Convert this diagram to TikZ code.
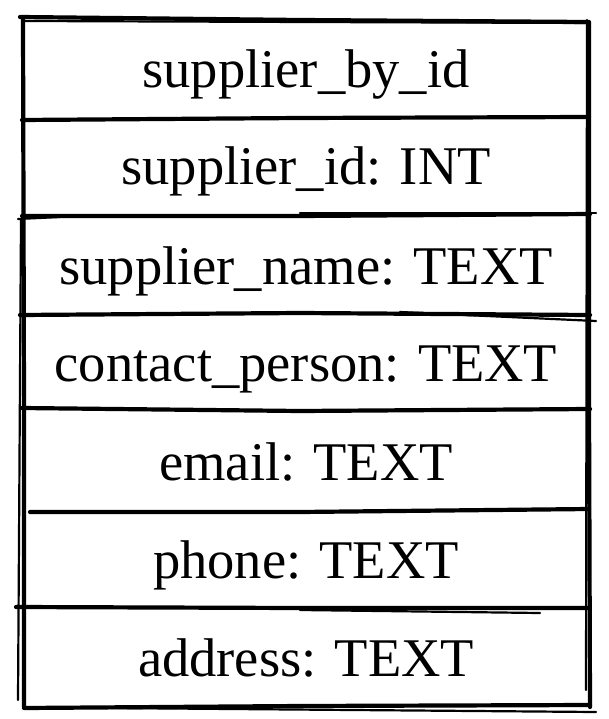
\documentclass[tikz,border=0pt]{standalone}
\usepackage{fontspec}
\setmainfont{Liberation Serif}
\begin{document}
\begin{tikzpicture}[x=1pt,y=-1pt,
  rough/.style={line width=4.2pt,line cap=round,line join=round},
  roughthin/.style={line width=2.2pt,line cap=round},
  cell/.style={anchor=base,font=\fontsize{54.5}{60}\selectfont,inner sep=0pt}]
\useasboundingbox (0,0) rectangle (608,719);
% outer frame
\draw[rough] (20,17) -- (300,20) -- (588,22);
\draw[roughthin] (24,21) -- (590,23);
\draw[rough] (23,19) -- (24,400) -- (24,707);
\draw[roughthin] (21,220) -- (18,700);
\draw[rough] (589,22) -- (589,400) -- (590,707);
\draw[roughthin] (587,20) -- (586,690);
\draw[rough] (24,708) -- (300,706) -- (590,705);
\draw[roughthin] (110,708) -- (596,712);
% separators
\draw[rough] (22,120) -- (300,118) -- (589,117);
\draw[rough] (22,216) -- (300,216) -- (590,214);
\draw[roughthin] (18,219) -- (60,217);
\draw[roughthin] (300,213) -- (596,213);
\draw[rough] (20,315) -- (300,313) -- (590,315);
\draw[roughthin] (400,312) -- (596,321);
\draw[rough] (22,408) -- (300,411) -- (590,409);
\draw[rough] (30,512) -- (300,512) -- (589,509);
\draw[rough] (16,607) -- (300,608) -- (589,608);
\draw[roughthin] (300,610) -- (540,613);
% texts
\node[cell] (t1) at (306,88) {supplier\_by\_id};
\node[cell] (t2) at (306,185) {supplier\_id: INT};
\node[cell] (t3) at (306,284) {supplier\_name: TEXT};
\node[cell] (t4) at (306,381) {contact\_person: TEXT};
\node[cell] (t5) at (306,480) {email: TEXT};
\node[cell] (t6) at (306,578) {phone: TEXT};
\node[cell] (t7) at (306,676) {address: TEXT};
\end{tikzpicture}
\end{document}
